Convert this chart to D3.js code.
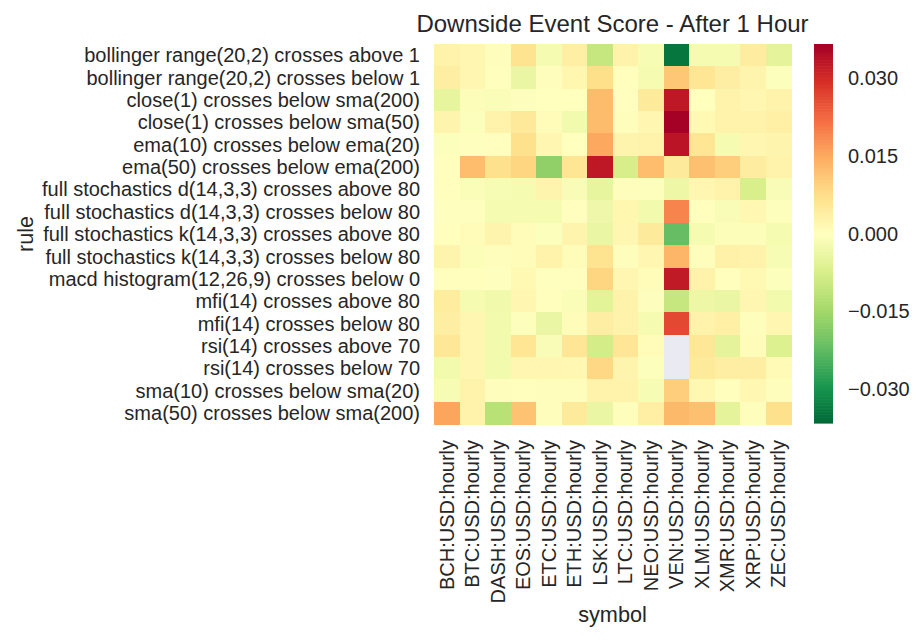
<!DOCTYPE html>
<html>
<meta charset="utf-8">
<script src="https://d3js.org/d3.v7.min.js"></script>
<style>
  body { margin: 0; background: #fff; }
  text { font-family: "Liberation Sans", Arial, sans-serif; fill: #262626; }
</style>
<body>
<div id="my_dataviz"></div>
<script>

// rules (rows) and symbols (columns)
var rules = [
  "bollinger range(20,2) crosses above 1",
  "bollinger range(20,2) crosses below 1",
  "close(1) crosses below sma(200)",
  "close(1) crosses below sma(50)",
  "ema(10) crosses below ema(20)",
  "ema(50) crosses below ema(200)",
  "full stochastics d(14,3,3) crosses above 80",
  "full stochastics d(14,3,3) crosses below 80",
  "full stochastics k(14,3,3) crosses above 80",
  "full stochastics k(14,3,3) crosses below 80",
  "macd histogram(12,26,9) crosses below 0",
  "mfi(14) crosses above 80",
  "mfi(14) crosses below 80",
  "rsi(14) crosses above 70",
  "rsi(14) crosses below 70",
  "sma(10) crosses below sma(20)",
  "sma(50) crosses below sma(200)"
];

var symbols = ["BCH:USD:hourly", "BTC:USD:hourly", "DASH:USD:hourly", "EOS:USD:hourly",
  "ETC:USD:hourly", "ETH:USD:hourly", "LSK:USD:hourly", "LTC:USD:hourly", "NEO:USD:hourly",
  "VEN:USD:hourly", "XLM:USD:hourly", "XMR:USD:hourly", "XRP:USD:hourly", "ZEC:USD:hourly"];

// one array of scores per rule, in symbol order (null = no data)
var bollingerAbove = [0.003, 0.002, 0.0005, 0.0065, -0.002, 0.0038, -0.010, 0.003, -0.0015, -0.0345, -0.002, -0.002, 0.0042, -0.005];
var bollingerBelow = [0.004, 0.002, 0.0003, -0.004, 0.0005, 0.0022, 0.0075, 0.0003, -0.002, 0.011, 0.006, 0.004, 0.0025, -0.0005];
var closeSma200 = [-0.0045, -0.0008, -0.001, -0.0003, 0.0001, 0.0001, 0.0127, 0.0002, 0.005, 0.033, 0.0001, 0.003, 0.002, 0.003];
var closeSma50 = [0.0025, -0.0005, 0.003, 0.0052, 0.001, -0.0025, 0.0128, 0.0005, 0.002, 0.0366, 0.0015, 0.003, 0.003, 0.0035];
var ema10_20 = [-0.0005, -0.0002, 0.0002, 0.007, 0.002, 0.0001, 0.0152, 0.0025, 0.003, 0.0335, 0.006, -0.002, 0.002, 0.0025];
var ema50_200 = [0.0003, 0.0125, 0.007, 0.009, -0.017, 0.006, 0.033, -0.0075, 0.0125, 0.005, 0.012, 0.010, 0.0042, 0.003];
var stochDAbove = [0.0003, -0.001, -0.0015, -0.002, 0.0025, -0.0012, -0.0045, 0.0004, -0.0004, -0.0035, 0.002, 0.0028, -0.0073, -0.0012];
var stochDBelow = [-0.0002, -0.0001, -0.0018, -0.002, -0.0018, 0.0002, -0.003, 0.0022, -0.0025, 0.0194, 0.0003, -0.0013, 0.0018, -0.0004];
var stochKAbove = [0.0003, 0.0007, 0.0025, 0.0008, -0.0005, 0.0025, -0.004, 0.002, 0.005, -0.022, -0.002, -0.0008, -0.0008, -0.0018];
var stochKBelow = [0.0025, -0.0008, 0.0004, 0.0007, 0.003, 0.0007, 0.0065, 0.0004, 0.002, 0.0135, 0.0004, 0.0033, 0.003, -0.0015];
var macdBelow = [0.0003, 0.0003, -0.0002, 0.0015, -0.0002, 0.0002, 0.009, 0.002, 0.0007, 0.0327, 0.0028, 0.0003, 0.0015, -0.0005];
var mfiAbove = [0.0045, -0.002, -0.0027, 0.002, 0.0003, -0.001, -0.0055, 0.0028, -0.0003, -0.010, -0.0035, -0.004, 0.002, -0.0025];
var mfiBelow = [0.004, 0.002, -0.0025, -0.0004, -0.004, 0.0007, 0.004, 0.0028, -0.002, 0.0263, 0.0028, 0.0035, 0.0004, 0.002];
var rsiAbove = [0.0055, 0.002, -0.0025, 0.006, -0.0012, 0.0058, -0.008, 0.0058, 0.0007, null, 0.0055, -0.005, 0.001, -0.0065];
var rsiBelow = [-0.0025, 0.002, -0.0025, 0.002, 0.002, 0.0018, 0.0085, 0.0025, -0.0006, null, 0.005, 0.004, 0.004, 0.0012];
var sma10_20 = [-0.0015, 0.003, 0.0004, 0.0003, 0.0005, 0.0004, 0.003, 0.003, -0.0015, 0.010, 0.0018, 0.0003, 0.0018, 0.0004];
var sma50_200 = [0.0157, 0.003, -0.012, 0.0115, 0.0005, 0.005, -0.004, 0.0005, 0.0038, 0.013, 0.012, -0.005, 0.0004, 0.007];

var scores = [bollingerAbove, bollingerBelow, closeSma200, closeSma50, ema10_20, ema50_200,
  stochDAbove, stochDBelow, stochKAbove, stochKBelow, macdBelow, mfiAbove, mfiBelow,
  rsiAbove, rsiBelow, sma10_20, sma50_200];

var cbarTicks = [-0.030, -0.015, 0.000, 0.015, 0.030];

// flatten to cells
var cells = [];
scores.forEach(function(row, i) {
  row.forEach(function(v, j) {
    cells.push({rule: rules[i], symbol: symbols[j], value: v});
  });
});

var W = 922, H = 644;
var plot = {left: 434, right: 791, top: 44, bottom: 424};

var svg = d3.select("#my_dataviz")
  .append("svg")
    .attr("width", W)
    .attr("height", H);

var x = d3.scaleBand().domain(symbols).range([plot.left, plot.right]);
var y = d3.scaleBand().domain(rules).range([plot.top, plot.bottom]);

// symmetric limits around 0 (seaborn center=0)
var vlim = d3.max(cells, function(d) { return d.value == null ? 0 : Math.abs(d.value); });

// RdYlGn_r, matplotlib style linear segments
var brewer = ["#006837", "#1a9850", "#66bd63", "#a6d96a", "#d9ef8b", "#ffffbf",
              "#fee08b", "#fdae61", "#f46d43", "#d73027", "#a50026"];
var color = d3.scaleLinear()
  .domain(d3.range(11).map(function(k) { return -vlim + k * (2 * vlim / 10); }))
  .range(brewer)
  .clamp(true);

// cells
svg.append("g")
  .selectAll("rect")
  .data(cells)
  .enter()
  .append("rect")
    .attr("x", function(d) { return x(d.symbol); })
    .attr("y", function(d) { return y(d.rule); })
    .attr("width", x.bandwidth() + 0.5)
    .attr("height", y.bandwidth() + 0.5)
    .attr("shape-rendering", "crispEdges")
    .style("fill", function(d) { return d.value == null ? "#eaeaf2" : color(d.value); });

// y labels
svg.append("g")
  .selectAll("text")
  .data(rules)
  .enter()
  .append("text")
    .attr("x", plot.left - 14)
    .attr("y", function(d) { return y(d) + y.bandwidth() / 2; })
    .attr("dy", "0.36em")
    .attr("text-anchor", "end")
    .style("font-size", "20px")
    .text(function(d) { return d; });

// x labels, rotated
svg.append("g")
  .selectAll("text")
  .data(symbols)
  .enter()
  .append("text")
    .attr("transform", function(d) {
      return "translate(" + (x(d) + x.bandwidth() / 2) + "," + (plot.bottom + 16) + ") rotate(-90)";
    })
    .attr("dy", "0.36em")
    .attr("text-anchor", "end")
    .style("font-size", "20px")
    .text(function(d) { return d; });

// axis titles
svg.append("text")
  .attr("x", (plot.left + plot.right) / 2)
  .attr("y", 622)
  .attr("text-anchor", "middle")
  .style("font-size", "21.7px")
  .text("symbol");

svg.append("text")
  .attr("transform", "translate(33," + (plot.top + plot.bottom) / 2 + ") rotate(-90)")
  .attr("text-anchor", "middle")
  .style("font-size", "21.7px")
  .text("rule");

svg.append("text")
  .attr("x", (plot.left + plot.right) / 2)
  .attr("y", 32)
  .attr("text-anchor", "middle")
  .style("font-size", "24px")
  .text("Downside Event Score - After 1 Hour");

// colorbar
var cb = {left: 814, width: 19, top: 44, bottom: 423};
var cy = d3.scaleLinear().domain([-vlim, vlim]).range([cb.bottom, cb.top]);
var steps = d3.range(256).map(function(k) { return -vlim + (k + 0.5) * (2 * vlim / 256); });
var stepH = (cb.bottom - cb.top) / 256;

svg.append("g")
  .selectAll("rect")
  .data(steps)
  .enter()
  .append("rect")
    .attr("x", cb.left)
    .attr("y", function(d) { return cy(d) - stepH / 2; })
    .attr("width", cb.width)
    .attr("height", stepH + 0.6)
    .style("fill", function(d) { return color(d); });

svg.append("g")
  .selectAll("text")
  .data(cbarTicks)
  .enter()
  .append("text")
    .attr("x", cb.left + cb.width + 15)
    .attr("y", function(d) { return cy(d); })
    .attr("dy", "0.36em")
    .style("font-size", "20px")
    .text(function(d) { return d3.format(".3f")(d); });

</script>
</body>
</html>
